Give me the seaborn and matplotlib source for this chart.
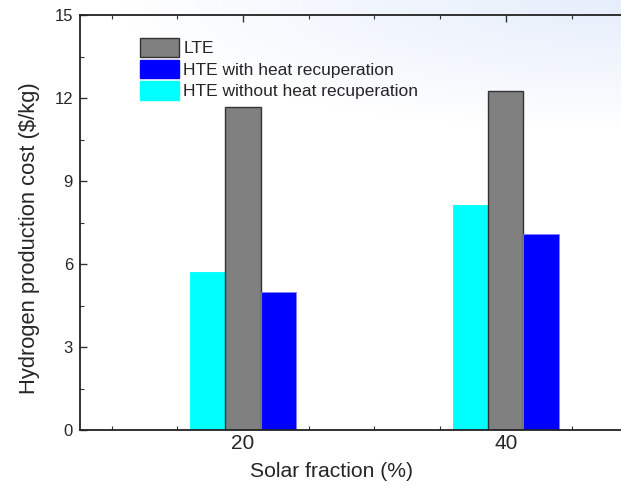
import numpy as np
import pandas as pd
import matplotlib
matplotlib.use("Agg")
import matplotlib.pyplot as plt
from matplotlib.patches import Patch
from matplotlib.ticker import MultipleLocator, FixedLocator
import seaborn as sns

# ---- data ----
solar_fraction = [20, 40]
series_names = ["HTE without heat recuperation", "LTE", "HTE with heat recuperation"]
hte_without = [5.71, 8.12]
lte = [11.66, 12.27]
hte_with = [4.97, 7.08]
legend_order = ["LTE", "HTE with heat recuperation", "HTE without heat recuperation"]
colors = {"LTE": "#808080", "HTE with heat recuperation": "#0000FF",
          "HTE without heat recuperation": "#00FFFF"}
edges = {"LTE": "#333333", "HTE with heat recuperation": "#8080FF",
         "HTE without heat recuperation": "#00FFFF"}

rows = []
for name, vals in zip(series_names, [hte_without, lte, hte_with]):
    for x, v in zip(solar_fraction, vals):
        rows.append({"fraction": x, "cost": v, "series": name})
df = pd.DataFrame(rows)

sns.set_theme(style="ticks")
plt.rcParams["font.family"] = ["Liberation Sans", "DejaVu Sans"]

fig = plt.figure(figsize=(6.21, 4.87), dpi=100)

# background gradient (light blue toward the top-right corner)
bg = fig.add_axes([0, 0, 1, 1], zorder=-10)
h, w = 487, 621
yy, xx = np.mgrid[0:h, 0:w]
d = np.sqrt(((w - xx) / 500.0) ** 2 + (yy / 130.0) ** 2)
wgt = np.clip(1 - d, 0, 1) ** 0.9
top = np.array([230, 238, 251]) / 255.0
img = np.ones((h, w, 3)) * (1 - wgt[..., None]) + top * wgt[..., None]
bg.imshow(img, aspect="auto", extent=[0, 1, 0, 1], origin="upper")
bg.axis("off")

ax = fig.add_axes([80 / 621, 57 / 487, 1 - 80 / 621, 415 / 487])
ax.patch.set_alpha(0)

sns.barplot(data=df, x="fraction", y="cost", hue="series", hue_order=series_names,
            palette=colors, native_scale=True, width=0.4, dodge=True,
            errorbar=None, saturation=1, ax=ax, legend=False)

# edge colours per series
for container, name in zip(ax.containers, series_names):
    for p in container.patches:
        p.set_edgecolor(edges[name])
        p.set_linewidth(1.0 if name == "LTE" else 0.6)

ax.set_xlim(7.6, 48.75)
ax.set_ylim(0, 15)
ax.xaxis.set_major_locator(FixedLocator(solar_fraction))
ax.xaxis.set_minor_locator(FixedLocator([10, 15, 25, 30, 35, 45]))
ax.yaxis.set_major_locator(MultipleLocator(3))
ax.yaxis.set_minor_locator(MultipleLocator(1.5))
ax.tick_params(axis="both", which="both", direction="in", top=True, right=False,
               color="#333333")
ax.tick_params(axis="both", which="major", length=5, width=1)
ax.tick_params(axis="both", which="minor", length=3, width=0.8)
ax.tick_params(axis="x", labelsize=15, pad=3)
ax.tick_params(axis="y", labelsize=12, pad=5)
for s in ["left", "bottom", "top"]:
    ax.spines[s].set_visible(True)
    ax.spines[s].set_linewidth(1.3)
    ax.spines[s].set_color("#222222")
ax.spines["right"].set_visible(False)

ax.set_xlabel("Solar fraction (%)", fontsize=15.2)
ax.set_ylabel("Hydrogen production cost ($/kg)", fontsize=15.8)
ax.xaxis.set_label_coords(0.465, -0.078)
ax.yaxis.set_label_coords(-0.074, 0.463)

handles = [Patch(facecolor=colors[n], edgecolor=edges[n] if n == "LTE" else colors[n],
                 linewidth=1.0) for n in legend_order]
ax.legend(handles, legend_order, loc="upper left", bbox_to_anchor=(0.111, 0.944),
          frameon=False, fontsize=12.5, handlelength=2.25, handleheight=1.25,
          labelspacing=0.18, handletextpad=0.25, borderpad=0, borderaxespad=0)

fig.savefig("out.png", dpi=100)
